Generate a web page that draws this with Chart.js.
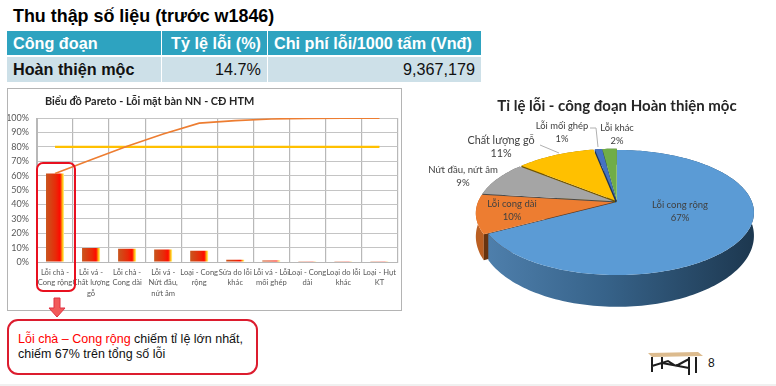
<!DOCTYPE html>
<html lang="vi"><head><meta charset="utf-8">
<script src="https://cdn.jsdelivr.net/npm/chart.js@4/dist/chart.umd.js"></script>
<style>
html,body{margin:0;padding:0;background:#fff;width:776px;height:386px;overflow:hidden;font-family:"Liberation Sans",Arial,sans-serif}
.a{position:absolute;box-sizing:border-box;white-space:nowrap}
.cell{display:flex;align-items:center;font-size:16.2px;padding:0 6px}
canvas{position:absolute}
</style></head><body>
<div class="a" style="left:13px;top:6px;font-size:17.9px;font-weight:bold;color:#000" id="pageTitle"></div>
<div id="tbl"></div>
<div class="a" style="left:7px;top:88px;width:395px;height:223px;border:1.5px solid #b4b4b4;background:#fff"></div>
<canvas id="pareto" style="left:8px;top:89px"></canvas>
<div class="a" style="left:36px;top:162px;width:40px;height:130px;border:2.2px solid #e8101f;border-radius:7px"></div>
<svg class="a" style="left:46px;top:296px" width="22" height="24"><path d="M8 2h6v10h5l-8 9-8-9h5z" fill="#f25a5a" stroke="#e03040" stroke-width="1"/></svg>
<div class="a" style="left:7px;top:319px;width:251px;height:56px;border:2px solid #dc1c2e;border-radius:11px;background:#fff;font-size:12.5px;line-height:15px;padding:11px 9px;color:#111"><span style="color:#f00">Lỗi chà – Cong rộng</span> chiếm tỉ lệ lớn nhất,<br>chiếm 67% trên tổng số lỗi</div>
<canvas id="pie" style="left:424px;top:90px"></canvas>
<svg class="a" style="left:646px;top:351px" width="58" height="26"><path d="M2 2L52 1 57 5 6 6z" fill="#dcbb8e"/><g stroke="#1d1d1d" stroke-width="2" fill="none"><path d="M6 6V21M16 6V18M43 6V24M50 6V22M6 15L22 10 30 15 43 8M16 12L43 17"/></g></svg>
<div class="a" style="left:708px;top:356px;font-size:12px;color:#111">8</div>
<div class="a" style="left:0;top:384px;width:776px;height:2px;background:#f0f0f0"></div>
<script>
const pageTitleText = "Thu thập số liệu (trước w1846)";
const tableHeader = ["Công đoạn", "Tỷ lệ lỗi (%)", "Chi phí lỗi/1000 tấm (Vnđ)"];
const tableRow = ["Hoàn thiện mộc", "14.7%", "9,367,179"];

const paretoTitle = "Biểu đồ Pareto - Lỗi mặt bàn NN - CĐ HTM";
const paretoCategories = [["Lỗi chà -","Cong rộng"],["Lỗi vá -","Chất lượng","gỗ"],["Lỗi chà -","Cong dài"],["Lỗi vá -","Nứt đầu,","nứt âm"],["Loại - Cong","rộng"],["Sửa do lỗi","khác"],["Lỗi vá - Lỗi","mối ghép"],["Loại - Cong","dài"],["Loại do lỗi","khác"],["Loại - Hụt","KT"]];
const paretoShare = [61.5, 9.8, 9.2, 8.7, 7.8, 1.5, 1.0, 0.6, 0.5, 0.5];
const paretoCumulative = [61.5, 71, 80.5, 89, 96.5, 98.2, 99.4, 99.8, 99.9, 100];
const paretoThreshold = [80, 80, 80, 80, 80, 80, 80, 80, 80, 80];

const pieTitle = "Tỉ lệ lỗi - công đoạn Hoàn thiện mộc";
const pieLabels = ["Lỗi cong rộng","Lỗi cong dài","Nứt đầu, nứt âm","Chất lượng gỗ","Lỗi mối ghép","Lỗi khác"];
const pieValues = [67, 10, 9, 11, 1, 2];
const pieColors = ["#5b9bd5","#ed7d31","#a5a5a5","#ffc000","#4472c4","#70ad47"];

document.getElementById('pageTitle').textContent = pageTitleText;
(function(){
  const cols=[[7,155],[162,106],[268,214]], t=document.getElementById('tbl');
  const mk=(txt,c,top,h,bg,col,bold,right)=>{const d=document.createElement('div');d.className='a cell';
    d.style.cssText=`left:${c[0]}px;top:${top}px;width:${c[1]-1}px;height:${h}px;background:${bg};color:${col};font-weight:${bold?'bold':'normal'};justify-content:${right?'flex-end':'flex-start'}`;
    d.textContent=txt;t.appendChild(d);};
  tableHeader.forEach((s,i)=>mk(s,cols[i],31,24,'#2ea3c0','#fff',true,i==1));
  tableRow.forEach((s,i)=>mk(s,cols[i],57,25,'#cde0e8','#111',i==0,i>0));
})();

function setup(id,w,h){const c=document.getElementById(id);c.width=w;c.height=h;c.style.width=w+'px';c.style.height=h+'px';return c;}
const labelFont='Lato, "Noto Sans", sans-serif';

new Chart(setup('pareto',393,220),{
  data:{labels:paretoCategories,datasets:[
    {type:'line',label:'Mục tiêu',data:paretoThreshold,borderColor:'#ffc000',borderWidth:2.2,pointRadius:0,order:1},
    {type:'line',label:'Tích lũy',data:paretoCumulative,borderColor:'#ed7d31',borderWidth:1.6,pointRadius:0,tension:0,order:0},
    {type:'bar',label:'Tỉ lệ',data:paretoShare,barPercentage:0.5,categoryPercentage:1,order:2,
     backgroundColor(c){const s=c.chart.scales.x;if(!s||!(c.dataIndex>=0)||!s.width)return '#e82000';
       const m=s.getPixelForValue(c.dataIndex),w=s.width/paretoShare.length/4;
       if(!isFinite(m))return '#e82000';
       const g=c.chart.ctx.createLinearGradient(m-w,0,m+w,0);
       g.addColorStop(0,'#c9561e');g.addColorStop(.55,'#e82a08');g.addColorStop(.78,'#ff0a00');g.addColorStop(.93,'#ffd21a');g.addColorStop(1,'#fff2b0');return g;}}
  ]},
  options:{responsive:false,animation:false,
    layout:{padding:{left:0,right:2,top:6,bottom:0}},
    plugins:{legend:{display:false},tooltip:{enabled:false},
      title:{display:true,text:paretoTitle,align:'start',color:'#262626',font:{family:labelFont,size:10.9,weight:'bold',lineHeight:1.2},padding:{top:0,bottom:10}}},
    scales:{
      x:{afterFit(s){s.height=47;},grid:{color:'#b8b8b8',lineWidth:1.2,drawTicks:false},border:{color:'#b8b8b8'},
         ticks:{color:'#595959',maxRotation:0,autoSkip:false,padding:5,font:{family:labelFont,size:7.6,lineHeight:1.38}}},
      y:{min:0,max:100,afterFit(s){s.width=29;},grid:{color:'#c4c4c4',lineWidth:1,drawTicks:false},border:{color:'#b8b8b8'},
         ticks:{stepSize:10,autoSkip:false,padding:8,color:'#595959',callback:v=>v+'%',font:{family:labelFont,size:9}}}
    }
  },
  plugins:[{id:'titleShift',afterLayout(ch){ch.titleBlock.left=37;}}]
});

/* positions of the pie's captions and leader lines, in canvas pixels */
const pieCaptionAnchors=[[256,115],[88,114],[39,80],[77,51],[138,36],[193,38]];
const pieCaptionSizes=[9.5,9.5,9.6,10.8,9.4,9.4];
const pieLeaders=[null,null,null,[[116,55],[135,63]],[[166,38],[172,38],[174,57]],null];
const PERSP=.168,SQUASH=.45,DEPTH=22;

const tilt={id:'tilt',
  beforeDatasetDraw(ch,args){
    const ctx=ch.ctx,els=ch.getDatasetMeta(0).data,cx=els[0].x,cy=els[0].y,r=els[0].outerRadius;
    const P=(u,v,low)=>{const w=1-PERSP*v;return [cx+r*u/w,cy+r*SQUASH*v/w+(low?DEPTH/(w*w):0)];};
    const shade=(hex,f)=>{const n=parseInt(hex.slice(1),16);return `rgb(${(n>>16)*f|0},${(n>>8&255)*f|0},${(n&255)*f|0})`;};
    const arc=(a0,a1,ox,oy,low)=>{const o=[],n=Math.max(6,Math.ceil((a1-a0)*40));for(let i=0;i<=n;i++){const a=a0+(a1-a0)*i/n;o.push(P(ox+Math.cos(a),oy+Math.sin(a),low));}return o;};
    const fill=(pts,col)=>{ctx.beginPath();pts.forEach((p,i)=>i?ctx.lineTo(p[0],p[1]):ctx.moveTo(p[0],p[1]));ctx.closePath();ctx.fillStyle=col;ctx.fill();};
    for(let i=els.length-1;i>=0;i--){
      const e=els[i],s=e.startAngle,t=e.endAngle,mid=(s+t)/2,off=i?0.03:0;
      const ox=off*Math.cos(mid),oy=off*Math.sin(mid),col=e.options.backgroundColor;
      const top=arc(s,t,ox,oy,false),bot=arc(s,t,ox,oy,true);
      let wall=shade(col,.6);
      if(i===0){const g=ctx.createLinearGradient(cx-r,0,cx+r,0);g.addColorStop(0,'#4f80ad');g.addColorStop(.45,'#37638a');g.addColorStop(1,'#1d3850');wall=g;}
      if(i===1)wall='#bb5f22';
      fill(top.concat(bot.slice().reverse()),wall);
      if(i>0){const c0=P(ox,oy,false),c1=P(ox,oy,true);fill([c0,top[0],bot[0],c1],i===1?'#683410':shade(col,.45));}
      fill([P(ox,oy,false)].concat(top),col);
    }
    return false;
  },
  afterDatasetsDraw(ch){
    const ctx=ch.ctx;ctx.save();ctx.textAlign='center';ctx.textBaseline='middle';ctx.fillStyle='#404040';
    const total=pieValues.reduce((a,b)=>a+b,0);
    pieLabels.forEach((n,i)=>{const a=pieCaptionAnchors[i];
      ctx.font=pieCaptionSizes[i]+'px '+labelFont;
      ctx.fillText(n,a[0],a[1]);ctx.fillText(Math.round(pieValues[i]/total*100)+'%',a[0],a[1]+13);
      const l=pieLeaders[i];if(l){ctx.beginPath();l.forEach((p,j)=>j?ctx.lineTo(p[0],p[1]):ctx.moveTo(p[0],p[1]));ctx.strokeStyle='#b0b0b0';ctx.lineWidth=1;ctx.stroke();}
    });ctx.restore();
  }
};

new Chart(setup('pie',386,230),{
  type:'pie',
  data:{labels:pieLabels,datasets:[{data:pieValues,backgroundColor:pieColors,borderWidth:0}]},
  options:{responsive:false,animation:false,radius:135,
    layout:{padding:{top:7,bottom:36}},
    plugins:{legend:{display:false},tooltip:{enabled:false},
      title:{display:true,text:pieTitle,color:'#262626',font:{family:labelFont,size:15,weight:'bold',lineHeight:1.2},padding:{top:0,bottom:5}}}
  },
  plugins:[tilt]
});
</script>
</body></html>
